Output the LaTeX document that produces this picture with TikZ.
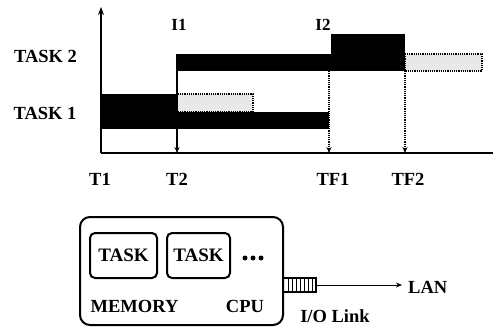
\documentclass[tikz,border=0pt]{standalone}
\usepackage{fontspec}
\setmainfont{Liberation Serif}
\usetikzlibrary{arrows.meta}
\begin{document}
\begin{tikzpicture}[x=1pt,y=-1pt,
  lbl/.style={font=\fontsize{18.5}{18.5}\selectfont\bfseries, inner sep=0pt},
  ilbl/.style={font=\fontsize{17}{17}\selectfont\bfseries, inner sep=0pt},
  dotbox/.style={fill=black!9, draw=black, densely dotted, line width=1.2pt},
  axis/.style={line width=1.5pt},
  tip/.style={-{Stealth[length=6pt,width=5pt]}},
  taskbox/.style={draw, line width=2pt, rounded corners=5pt, inner sep=0pt,
    minimum height=45pt, font=\fontsize{19}{19}\selectfont\bfseries}]
\useasboundingbox (0,0) rectangle (493,327);
% axes
\coordinate (o) at (101,153);
\coordinate (ytop) at (101,7);
\coordinate (xend) at (493,153);
\draw[axis, -{Stealth[length=8pt,width=6pt]}] (o) -- (ytop);
\draw[axis] (o) -- (xend);
% task 1 bars
\fill (101,94) rectangle (176,129);
\fill (176,112) rectangle (329,129);
\draw[dotbox] (176,94) rectangle (253,112);
% task 2 bars
\fill (176,54) rectangle (331,71);
\fill (331,34) rectangle (405,71);
\draw[dotbox] (405,54) rectangle (482,71);
% vertical markers
\coordinate (v1a) at (177,54);  \coordinate (v1b) at (177,153);
\coordinate (v2a) at (329,71);  \coordinate (v2b) at (329,153);
\coordinate (v3a) at (405,71);  \coordinate (v3b) at (405,153);
\draw[line width=1.2pt, tip] (v1a) -- (v1b);
\draw[line width=1.2pt, densely dotted, tip] (v2a) -- (v2b);
\draw[line width=1.2pt, densely dotted, tip] (v3a) -- (v3b);
% labels
\node[ilbl, anchor=base] (i1) at (179,30) {I1};
\node[ilbl, anchor=base] (i2) at (323,30) {I2};
\node[lbl, anchor=base] (task2) at (45.5,62) {TASK 2};
\node[lbl, anchor=base] (task1) at (45,119) {TASK 1};
\node[lbl, anchor=base] (t1) at (100,185) {T1};
\node[lbl, anchor=base] (t2) at (177,185) {T2};
\node[lbl, anchor=base] (tf1) at (333,185) {TF1};
\node[lbl, anchor=base] (tf2) at (408,185) {TF2};
% system box
\node[draw, line width=2pt, rounded corners=10pt, minimum width=203pt, minimum height=108pt, inner sep=0pt] (sys) at (181.5,271) {};
\node[taskbox, minimum width=67pt] (tb1) at (123.5,255.5) {TASK};
\node[taskbox, minimum width=63pt] (tb2) at (198.5,255.5) {TASK};
\fill (245,258) circle (2.5);
\fill (253,258) circle (2.5);
\fill (261,258) circle (2.5);
\node[lbl, anchor=base] (mem) at (134.5,312) {MEMORY};
\node[lbl, anchor=base] (cpu) at (245,312) {CPU};
% I/O link
\node[draw, line width=1.2pt, minimum width=33pt, minimum height=14pt, inner sep=0pt] (io) at (299.5,285) {};
\foreach \xx in {288,292,296,300,304,308,312} \draw[line width=0.8pt] (\xx,279) -- (\xx,291);
\node[lbl, anchor=base west] (lan) at (408,293) {LAN};
\node[lbl, anchor=base] (iol) at (335,322) {I/O Link};
\draw[line width=1pt, tip, shorten >=6pt] (io.east) -- (io.east -| lan.west);
\end{tikzpicture}
\end{document}
